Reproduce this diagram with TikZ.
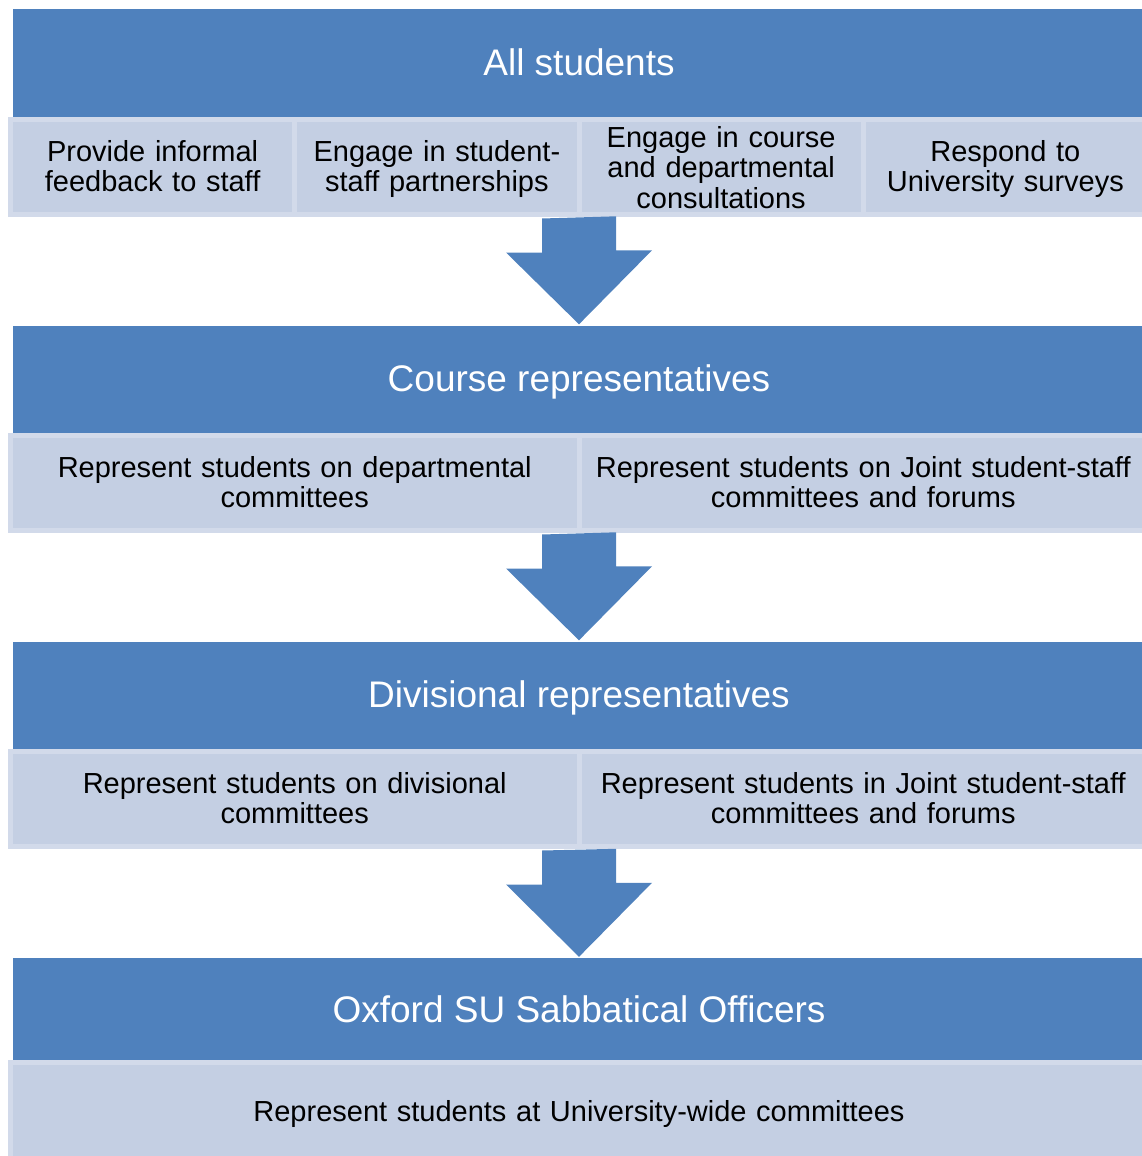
\documentclass[tikz,border=0pt]{standalone}
\usepackage{fontspec}
\setmainfont{Liberation Sans}
\usetikzlibrary{calc}
\definecolor{headblue}{HTML}{4F81BD}
\definecolor{cellblue}{HTML}{C4CFE3}
\definecolor{cellrim}{HTML}{D2DAEA}

\begin{document}
\begin{tikzpicture}[x=1pt,y=-1pt,
  head/.style={fill=headblue,text=white,inner sep=0pt,minimum width=1132pt,minimum height=107pt,
    text height=26pt,text depth=1pt,font=\fontsize{37}{40}\selectfont},
  cellbase/.style={fill=cellblue,draw=cellrim,line width=5pt,inner sep=0pt,minimum height=95pt,
    align=center,font=\fontsize{29}{30.5}\selectfont},
  cell/.style={cellbase,execute at begin node={\rule{0pt}{28.5pt}},execute at end node={\strut}},
  threeline/.style={cellbase,execute at begin node={\rule{0pt}{27pt}},
    execute at end node={\rule[-6pt]{0pt}{6pt}}},
  quarter/.style={minimum width=284.25pt,text width=270pt},
  half/.style={cell,minimum width=568.5pt,text width=550pt},
  bigarrow/.style={fill=headblue,draw=none}]

\useasboundingbox (0,0) rectangle (1142,1156);
\clip (0,0) rectangle (1142,1156);

% all students
\node[head] (h1) at (579,63) {All students};
\node[cell,quarter] (s11) at (152.625,167) {Provide informal\\feedback to staff};
\node[cell,quarter] (s12) at (436.875,167) {Engage in student-\\staff partnerships};
\node[threeline,quarter] (s13) at (721.125,167) {Engage in course\\and departmental\\consultations};
\node[cell,quarter] (s14) at (1005.375,167) {Respond to\\University surveys};

% course reps
\node[head] (h2) at (579,379) {Course representatives};
\node[half] (s21) at (294.75,483) {Represent students on departmental\\committees};
\node[half] (s22) at (863.25,483) {Represent students on Joint student-staff\\committees and forums};

% divisional reps
\node[head] (h3) at (579,695) {Divisional representatives};
\node[half] (s31) at (294.75,799) {Represent students on divisional\\committees};
\node[half] (s32) at (863.25,799) {Represent students in Joint student-staff\\committees and forums};

% sabbatical officers
\node[head,minimum height=103pt] (h4) at (579,1009.5) {Oxford SU Sabbatical Officers};
\node[cell,minimum width=1137pt,minimum height=98pt,text width=1100pt] (s41) at (579,1111.5)
  {Represent students at University-wide committees};

% arrows
\coordinate (a1) at ($(s12.south east)!0.5!(s13.south west)+(0,1.5)$);
\path[bigarrow] (a1) ++(-37,0) -- ++(0,34) -- ++(-36,0) -- ($(h2.north)+(0,-1)$) -- ++(73,-74) -- ++(-36,0) -- ++(0,-34) -- cycle;
\coordinate (a2) at ($(s21.south east)!0.5!(s22.south west)+(0,1.5)$);
\path[bigarrow] (a2) ++(-37,0) -- ++(0,34) -- ++(-36,0) -- ($(h3.north)+(0,-1)$) -- ++(73,-74) -- ++(-36,0) -- ++(0,-34) -- cycle;
\coordinate (a3) at ($(s31.south east)!0.5!(s32.south west)+(0,1.5)$);
\path[bigarrow] (a3) ++(-37,0) -- ++(0,34) -- ++(-36,0) -- ($(h4.north)+(0,-1)$) -- ++(73,-74) -- ++(-36,0) -- ++(0,-34) -- cycle;

\end{tikzpicture}
\end{document}
